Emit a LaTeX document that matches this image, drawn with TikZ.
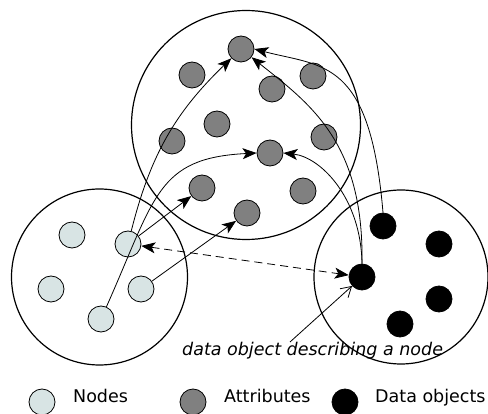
\documentclass[tikz,border=0pt]{standalone}
\usepackage{fontspec}
\setmainfont{DejaVu Sans}
\usetikzlibrary{arrows.meta}
\definecolor{nodefill}{RGB}{216,228,228}
\definecolor{attrfill}{RGB}{128,128,128}
\begin{document}
\begin{tikzpicture}[x=1pt,y=1pt,
  region/.style={circle,draw,line width=1.2pt,minimum size=#1,inner sep=0pt},
  nodept/.style={circle,draw,line width=0.8pt,minimum size=26pt,inner sep=0pt,fill=nodefill},
  attrpt/.style={nodept,fill=attrfill},
  datapt/.style={nodept,fill=black},
  conn/.style={line width=0.8pt,-{Stealth[length=14pt,width=11pt,inset=3.5pt]}},
  lbl/.style={font=\fontsize{17.5}{20}\selectfont,anchor=base west,inner sep=0pt}]
\useasboundingbox (0,0) rectangle (488,413);
% left region nodes
\node[nodept] (L1) at (72,178) {};
\node[nodept] (L2) at (128,169) {};
\node[nodept] (L3) at (51,124) {};
\node[nodept] (L4) at (141,124) {};
\node[nodept] (L5) at (101,94) {};
% top region attributes
\node[attrpt] (G1) at (241,364) {};
\node[attrpt] (G2) at (192,338) {};
\node[attrpt] (G3) at (313,337) {};
\node[attrpt] (G4) at (272,324) {};
\node[attrpt] (G5) at (217,289) {};
\node[attrpt] (G6) at (172,272) {};
\node[attrpt] (G7) at (324,276) {};
\node[attrpt] (G8) at (270,260) {};
\node[attrpt] (G9) at (202,225) {};
\node[attrpt] (G10) at (303,222) {};
\node[attrpt] (G11) at (247,200) {};
% right region data objects
\node[datapt] (D1) at (383,187) {};
\node[datapt] (D2) at (439,169) {};
\node[datapt] (D3) at (362,136) {};
\node[datapt] (D4) at (439,114) {};
\node[datapt] (D5) at (400,89) {};
% big regions
\node[region=229pt] (RT) at (246,288) {};
\node[region=176pt] (RL) at (99.5,136) {};
\node[region=174pt] (RR) at (401,136) {};
% connectors
\draw[conn] (L2) to[bend left=16] (G1);
\draw[conn] (L5.66) .. controls +(49,110) and +(-100,-5) .. (G8.west);
\draw[conn] (L2) -- (G9);
\draw[conn] (L4) -- (G11);
\draw[conn] (D1.north) .. controls +(-13,155) and +(68,-18) .. (G1.east);
\draw[conn] (D3.north) .. controls +(2,121) and +(59,-47) .. (G1.-38);
\draw[conn] (D3.north) .. controls +(-1,66) and +(37,-4) .. (G8.east);
\draw[line width=0.8pt,dash pattern=on 8pt off 5pt,{Stealth[length=14pt,width=11pt,inset=3.5pt]}-{Stealth[length=14pt,width=11pt,inset=3.5pt]}] (L2) -- (D3);
% annotation
\node[lbl,font=\fontsize{17.5}{20}\selectfont\itshape] (anno) at (182,57) {data object describing a node};
\coordinate (annoStart) at (290,71);
\draw[line width=0.8pt,-{Straight Barb[length=10pt,width=12pt]}] (annoStart) -- (D3);
% legend
\node[nodept] (kN) at (42,11) {};
\node[lbl] (tN) at (73,11) {Nodes};
\node[attrpt] (kA) at (193,11) {};
\node[lbl] (tA) at (224,11) {Attributes};
\node[datapt] (kD) at (345,11) {};
\node[lbl] (tD) at (375,11) {Data objects};
\end{tikzpicture}
\end{document}
